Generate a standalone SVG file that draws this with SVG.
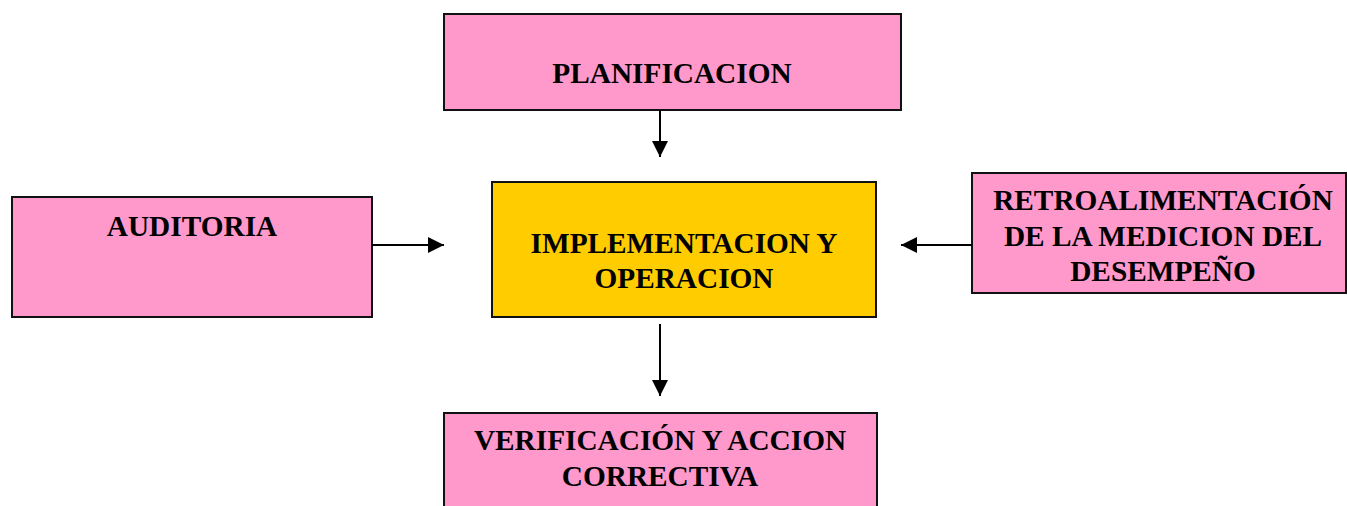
<svg xmlns="http://www.w3.org/2000/svg" width="1347" height="506" viewBox="0 0 1347 506">
<style>
.pink{fill:#FF99CC;stroke:#111;stroke-width:2}
.yellow{fill:#FFCC00;stroke:#111;stroke-width:2}
.t{font-family:"Liberation Serif","Times New Roman",serif;font-weight:bold;font-size:29.3px;fill:#000;text-anchor:middle}
.c{stroke:#000;stroke-width:2;fill:none}
</style>
<defs>
<marker id="ah" viewBox="0 0 10 10" refX="10" refY="5" markerWidth="16" markerHeight="16" markerUnits="userSpaceOnUse" orient="auto">
<path d="M0,0 L10,5 L0,10 Z" fill="#000"/>
</marker>
</defs>
<rect width="1347" height="506" fill="#fff"/>
<g id="planificacion">
<rect class="pink" x="444" y="14" width="457" height="96"/>
<text class="t" x="672" y="83">PLANIFICACION</text>
</g>
<g id="auditoria">
<rect class="pink" x="12" y="197" width="360" height="120"/>
<text class="t" x="192" y="236">AUDITORIA</text>
</g>
<g id="implementacion">
<rect class="yellow" x="492" y="182" width="384" height="135"/>
<text class="t" x="684" y="253">IMPLEMENTACION Y</text>
<text class="t" x="684" y="288">OPERACION</text>
</g>
<g id="retroalimentacion">
<rect class="pink" x="972" y="173" width="374" height="120"/>
<text class="t" x="1163" y="210">RETROALIMENTACIÓN</text>
<text class="t" x="1163" y="246">DE LA MEDICION DEL</text>
<text class="t" x="1163" y="281">DESEMPEÑO</text>
</g>
<g id="verificacion">
<rect class="pink" x="444" y="413" width="433" height="100"/>
<text class="t" x="660" y="450">VERIFICACIÓN Y ACCION</text>
<text class="t" x="660" y="486">CORRECTIVA</text>
</g>
<g id="connectors">
<line class="c" x1="660" y1="110" x2="660" y2="157" marker-end="url(#ah)"/>
<line class="c" x1="372" y1="245" x2="444" y2="245" marker-end="url(#ah)"/>
<line class="c" x1="972" y1="245" x2="901" y2="245" marker-end="url(#ah)"/>
<line class="c" x1="660" y1="324" x2="660" y2="396" marker-end="url(#ah)"/>
</g>
</svg>
